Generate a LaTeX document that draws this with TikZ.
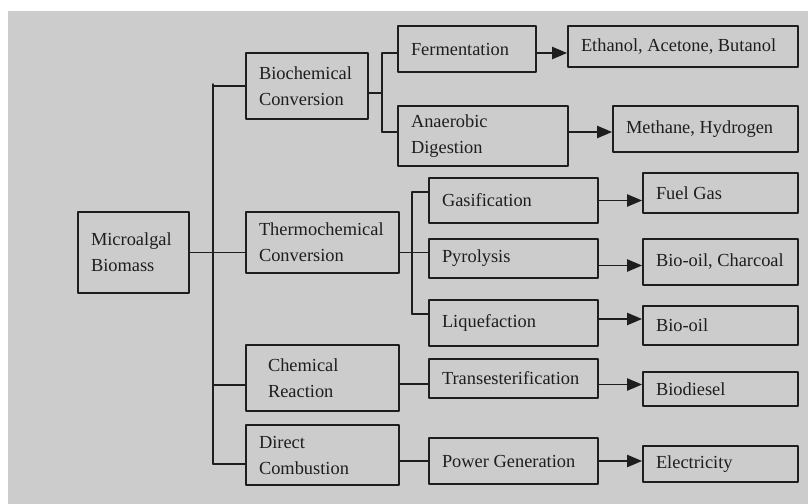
\documentclass[tikz,border=0pt]{standalone}
\usepackage{fontspec}
\setmainfont{Liberation Serif}
\usepackage{tikz}
\usetikzlibrary{arrows}
\definecolor{bggray}{RGB}{204,204,204}
\definecolor{inkgray}{RGB}{30,30,30}
\tikzset{box/.style={draw=inkgray,line width=1.pt,anchor=north west,align=flush left,inner xsep=6.5pt,inner ysep=0pt,text=inkgray,font=\fontsize{9.2}{13}\selectfont},
conn/.style={draw=inkgray,line width=0.7pt}}

\begin{document}
\begin{tikzpicture}[line cap=round,line join=round,>=triangle 45,x=0.5pt,y=-0.5pt]
\useasboundingbox (0,0) rectangle (810,504);
\fill [white] (0,0) rectangle (810,504);
\fill [bggray] (8,11) rectangle (808,504);

% boxes
\node[box,text width=42.5pt,minimum height=40.5pt] (mb) at (77,211) {Microalgal\\Biomass};
\node[box,text width=48pt,minimum height=33pt] (bc) at (245,52) {Biochemical\\Conversion};
\node[box,text width=63.5pt,minimum height=30.5pt] (tc) at (245,211) {Thermochemical\\Conversion};
\node[box,text width=63.5pt,minimum height=33pt] (cr) at (245,344) {\hspace*{4.5pt}Chemical\\\hspace*{4.5pt}Reaction};
\node[box,text width=63.5pt,minimum height=30pt] (dc) at (245,424) {Direct\\Combustion};

\node[box,text width=56pt,minimum height=23pt] (fe) at (397,25) {Fermentation};
\node[box,text width=72pt,minimum height=30pt] (an) at (397,105) {Anaerobic\\Digestion};
\node[box,text width=71.5pt,minimum height=22.5pt] (ga) at (428,177) {Gasification};
\node[box,text width=71.5pt,minimum height=19.5pt] (py) at (428,238) {Pyrolysis};
\node[box,text width=71.5pt,minimum height=23pt] (lq) at (428,299) {Liquefaction};
\node[box,text width=71.5pt,minimum height=19.5pt] (tr) at (428,358) {Transesterification};
\node[box,text width=71.5pt,minimum height=23pt] (pg) at (428,437) {Power Generation};

\node[box,text width=102pt,minimum height=20.5pt] (eth) at (567,25) {\mbox{Ethanol, Acetone, Butanol}};
\node[box,text width=79.5pt,minimum height=23pt] (mh) at (612,105) {\mbox{Methane, Hydrogen}};
\node[box,text width=64.5pt,minimum height=20pt] (fg) at (642,172) {Fuel Gas};
\node[box,text width=64.5pt,minimum height=23pt] (boc) at (642,238) {\mbox{Bio-oil, Charcoal}};
\node[box,text width=64.5pt,minimum height=19.5pt] (bo) at (642,305) {Bio-oil};
\node[box,text width=64.5pt,minimum height=17pt] (bd) at (642,371) {Biodiesel};
\node[box,text width=64.5pt,minimum height=18pt] (el) at (642,445) {Electricity};

% forks and line heights
\coordinate (t1) at (213,84);
\coordinate (t2) at (213,464);
\coordinate (f1) at (382,53);
\coordinate (f2) at (382,132);
\coordinate (g1) at (412,192);
\coordinate (g2) at (412,314);
\coordinate (crw) at ([yshift=-3.5pt]cr.west);
\coordinate (dcw) at ([yshift=-4.5pt]dc.west);
\coordinate (bce) at ([yshift=-3.5pt]bc.east);
\coordinate (tce) at ([yshift=-5pt]tc.east);
\coordinate (cre) at ([yshift=-3pt]cr.east);
\coordinate (dce) at ([yshift=-3pt]dc.east);
\coordinate (pye) at ([yshift=-3.5pt]py.east);
\coordinate (lqe) at ([yshift=2pt]lq.east);
\coordinate (tre) at ([yshift=-3pt]tr.east);

% main trunk
\draw [conn] (t1)-- (t2);
\draw [conn] (mb.east)-- (mb.east -| tc.west);
\draw [conn] (t1 |- bc.west)-- (bc.west);
\draw [conn] (t1 |- crw)-- (crw);
\draw [conn] (t1 |- dcw)-- (dcw);

% biochemical
\draw [conn] (bce)-- (bce -| f1);
\draw [conn] (f1)-- (f2);
\draw [conn] (f1)-- (f1 -| fe.west);
\draw [conn] (f2)-- (f2 -| an.west);

% thermochemical
\draw [conn] (tce)-- (tce -| py.west);
\draw [conn] (g1)-- (g2);
\draw [conn] (g1)-- (g1 -| ga.west);
\draw [conn] (g2)-- (g2 -| lq.west);

% chemical, direct
\draw [conn] (cre)-- (cre -| tr.west);
\draw [conn] (dce)-- (dce -| pg.west);

% products
\draw [conn,->] (f1 -| fe.east)-- (f1 -| eth.west);
\draw [conn,->] (f2 -| an.east)-- (f2 -| mh.west);
\draw [conn,->] (ga.east)-- (ga.east -| fg.west);
\draw [conn,->] (pye)-- (pye -| boc.west);
\draw [conn,->] (lqe)-- (lqe -| bo.west);
\draw [conn,->] (tre)-- (tre -| bd.west);
\draw [conn,->] (pg.east)-- (pg.east -| el.west);
\end{tikzpicture}
\end{document}
